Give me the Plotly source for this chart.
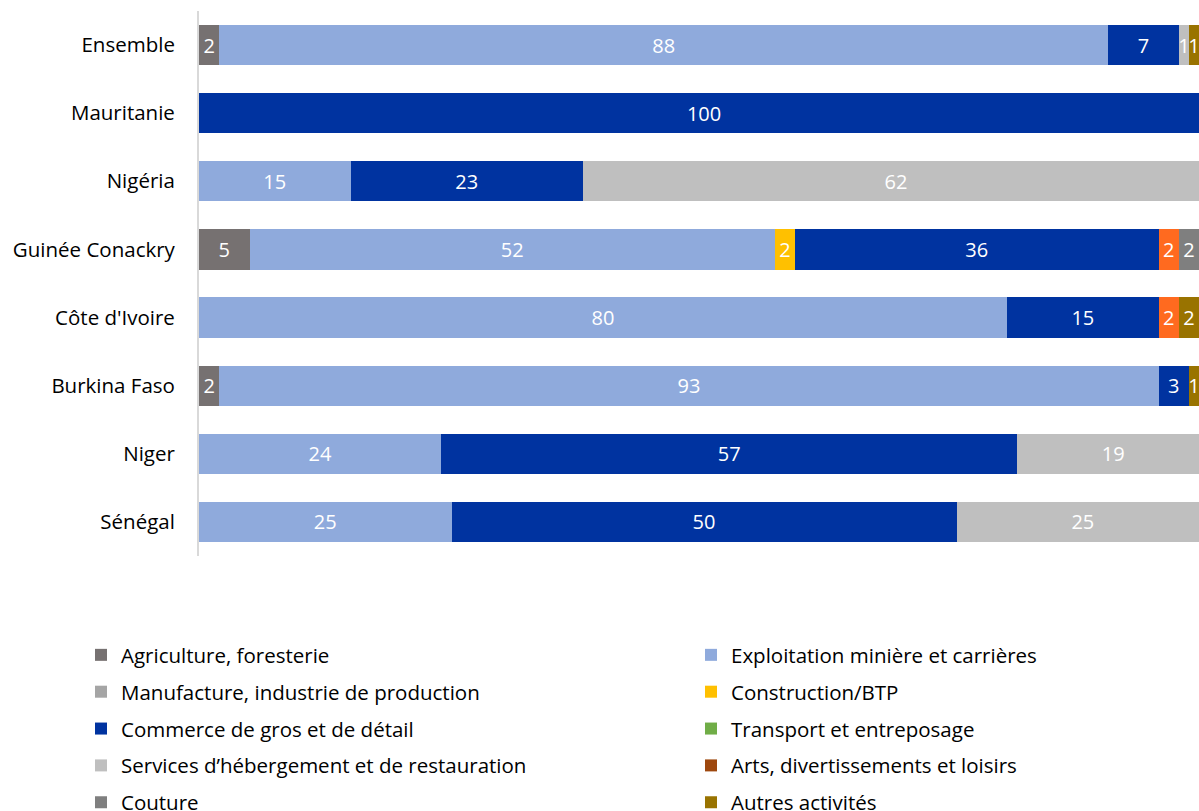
import plotly.graph_objects as go

countries = ["Ensemble", "Mauritanie", "Nigéria", "Guinée Conackry",
             "Côte d'Ivoire", "Burkina Faso", "Niger", "Sénégal"]

agriculture = [2, None, None, 5, None, 2, None, None]
exploitation = [88, None, 15, 52, 80, 93, 24, 25]
manufacture = [None] * 8
construction = [None, None, None, 2, None, None, None, None]
commerce = [7, 100, 23, 36, 15, 3, 57, 50]
transport = [None] * 8
services = [1, None, 62, None, None, None, 19, 25]
arts = [None] * 8
autres_services = [None, None, None, 2, 2, None, None, None]
couture = [None, None, None, 2, None, None, None, None]
autres = [1, None, None, None, 2, 1, None, None]

# (name, values, colour, legend column) in stacking order
series = [
    ("Agriculture, foresterie", agriculture, "#767171", "legend"),
    ("Exploitation minière et carrières", exploitation, "#8FAADC", "legend2"),
    ("Manufacture, industrie de production", manufacture, "#A5A5A5", "legend"),
    ("Construction/BTP", construction, "#FFC000", "legend2"),
    ("Commerce de gros et de détail", commerce, "#0033A0", "legend"),
    ("Transport et entreposage", transport, "#70AD47", "legend2"),
    ("Services d’hébergement et de restauration", services, "#BFBFBF", "legend"),
    ("Arts, divertissements et loisirs", arts, "#9E480E", "legend2"),
    ("Autres services", autres_services, "#FF6A1F", None),
    ("Couture", couture, "#7F7F7F", "legend"),
    ("Autres activités", autres, "#997300", "legend2"),
]

FONT = "Open Sans"

fig = go.Figure()
for i, (name, vals, color, leg) in enumerate(series):
    fig.add_trace(go.Bar(
        y=countries,
        x=vals,
        orientation="h",
        name=name,
        marker=dict(color=color, line=dict(width=0)),
        text=["" if v is None else str(v) for v in vals],
        textposition="inside",
        insidetextanchor="middle",
        constraintext="none",
        textfont=dict(color="white", size=20, family=FONT),
        legend=leg if leg else "legend",
        showlegend=leg is not None,
        legendgroup=f"g{i}",
        cliponaxis=True,
    ))

legend_common = dict(
    orientation="v",
    yanchor="top",
    y=-0.145,
    font=dict(size=20.5, family=FONT, color="#000000"),
    tracegroupgap=7.2,
    bgcolor="rgba(0,0,0,0)",
)

fig.update_layout(
    width=1199,
    height=811,
    barmode="stack",
    bargap=0.41,
    margin=dict(l=199, r=0, t=11, b=255, autoexpand=False),
    paper_bgcolor="white",
    plot_bgcolor="white",
    font=dict(family=FONT, size=20, color="#000000"),
    legend=dict(x=-0.118, xanchor="left", **legend_common),
    legend2=dict(x=0.492, xanchor="left", **legend_common),
    xaxis=dict(visible=False, range=[0, 99], showgrid=False, zeroline=False),
    yaxis=dict(
        categoryorder="array",
        categoryarray=countries,
        autorange="reversed",
        showline=True,
        linecolor="#D9D9D9",
        linewidth=2,
        showgrid=False,
        ticks="",
        ticklabelstandoff=18,
        tickfont=dict(size=20.5, family=FONT, color="#000000"),
    ),
)

fig.write_html("out.html")
